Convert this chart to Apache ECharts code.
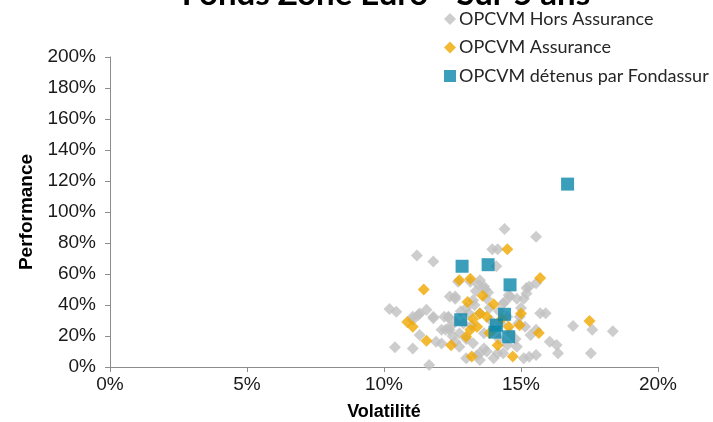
<!DOCTYPE html>
<html><head><meta charset="utf-8">
<script src="https://cdn.jsdelivr.net/npm/echarts@6/dist/echarts.min.js"></script>
<style>html,body{margin:0;padding:0;background:#fff}#c{width:713px;height:422px}</style>
</head><body><div id="c"></div>
<script>
const titleText = 'Fonds Zone Euro - Sur 5 ans';
const xAxisName = 'Volatilité';
const yAxisName = 'Performance';
const seriesNames = ['OPCVM Hors Assurance', 'OPCVM Assurance', 'OPCVM détenus par Fondassur'];
const xTickValues = [0, 5, 10, 15, 20];
const yTickValues = [0, 20, 40, 60, 80, 100, 120, 140, 160, 180, 200];

// [volatilité %, performance %]
const horsAssurance = [
  [14.4,89],[15.55,84],[13.95,76],[14.15,76],[11.2,72],[11.8,68],[14.1,65],
  [13.5,56],[12.7,55],[13.15,55],[13.45,53],[13.65,52],[13.7,50],[13.35,49],[13.8,48],
  [15.2,51],[15.3,52],[15.55,54],[15.2,47.5],[15.1,44],[14.6,45.5],[14.55,46.5],[14.4,42],[14.35,41],
  [12.6,44],[12.4,45.5],[12.6,45.5],[13.25,43],[13.75,44],[14.85,44],
  [10.2,37.5],[10.45,35.7],[11.3,34.5],[11.25,33.5],[11.55,37],[11.8,32.5],[11.8,31.5],
  [11.05,32.5],[11.05,30.3],[12.35,32.5],[12.35,32],[12.2,32.5],
  [13.5,34.6],[13.1,34.6],[13.85,38],[14.5,32.5],[14.95,32.5],[15.7,34.6],[15.9,34.6],
  [12.9,28],[12.75,21.7],[13.65,21.7],[14.0,24],[14.25,28],[15.15,26],[15.35,20.6],[15.55,24],
  [12.1,24],[12.4,24],[12.4,26],[12.25,24],
  [16.9,26.4],[17.6,24],[18.35,23],
  [11.3,20.6],[10.4,12.7],[11.05,12],[11.65,1.3],
  [11.9,16.3],[12.1,15.2],[12.6,16.3],[12.75,13],
  [13.25,15.3],[13.65,12],[14.5,14.2],[14.85,13],
  [15.1,5.6],[15.3,6.6],[14.0,5.6],[14.15,8.8],[13.0,5.6],[13.4,7.7],[13.5,4.5],[13.5,8.8],[13.75,10],[14.35,8.8],
  [16.3,14.2],[16.35,8.8],[16.05,16.3],[17.55,8.8],[15.55,7.7],
  [13.0,38],[13.3,40],[12.8,36],[14.2,36],[13.9,30],[13.2,27],[12.6,29],[14.6,22],[14.8,18],
  [13.0,18],[14.2,18],[12.5,20],[15.0,38],[14.9,28]
];
const assurance = [
  [14.5,76],[15.7,57.5],[11.45,50],[12.75,56],[13.15,57],[13.6,46],[13.05,42],[14.0,40.5],
  [15.0,34.5],[13.5,34.5],[13.25,31],[13.75,32.5],[14.3,31],[10.85,29],[11.05,26],[14.95,27],
  [14.55,26],[13.15,24],[13.0,19.5],[15.65,22],[11.55,17],[12.45,14],[14.15,14],[13.2,6.7],
  [14.7,6.7],[17.5,29.7],[13.4,26],[13.85,22]
];
const fondassur = [
  [16.7,118],[12.85,65],[13.8,66],[14.6,53],[12.8,30.5],[14.4,34],[14.1,27],[14.05,22.5],[14.55,19.5]
];

const axisGray = '#8c8c8c';
const chart = echarts.init(document.getElementById('c'), null, {renderer: 'canvas'});
chart.setOption({
  backgroundColor: '#ffffff',
  animation: false,
  title: {
    text: titleText,
    left: 381, textAlign: 'center',
    top: -27,
    textStyle: {fontFamily: 'Lato', fontWeight: 'bold', fontSize: 33, color: '#000'}
  },
  legend: {
    orient: 'vertical',
    left: 444, top: 10, padding: 0,
    itemGap: 10.5, itemWidth: 12, itemHeight: 12,
    data: seriesNames,
    textStyle: {fontFamily: 'Lato', fontSize: 18, color: '#262626', padding: [0,0,0,-2]}
  },
  grid: {left: 110, right: 55, top: 57, bottom: 55, containLabel: false, outerBoundsMode: 'none'},
  xAxis: {
    type: 'value', min: 0, max: 20, interval: 5,
    name: xAxisName, nameLocation: 'middle', nameGap: 36,
    nameTextStyle: {fontFamily: 'Liberation Sans', fontWeight: 'bold', fontSize: 18, color: '#000'},
    axisLine: {show: true, onZero: false, lineStyle: {color: axisGray, width: 1}},
    axisTick: {show: true, inside: false, length: 5, lineStyle: {color: axisGray}},
    axisLabel: {margin: 8, fontFamily: 'Liberation Sans', fontSize: 19, color: '#1a1a1a',
      formatter: v => xTickValues.includes(v) ? v + '%' : ''},
    splitLine: {show: false}
  },
  yAxis: {
    type: 'value', min: 0, max: 200, interval: 20,
    name: yAxisName, nameLocation: 'middle', nameGap: 72, nameRotate: 90,
    nameTextStyle: {fontFamily: 'Liberation Sans', fontWeight: 'bold', fontSize: 19, color: '#000'},
    axisLine: {show: true, lineStyle: {color: axisGray, width: 1}},
    axisTick: {show: true, inside: false, length: 5, lineStyle: {color: axisGray}},
    axisLabel: {margin: 14, fontFamily: 'Liberation Sans', fontSize: 19, color: '#1a1a1a',
      formatter: v => yTickValues.includes(v) ? v + '%' : ''},
    splitLine: {show: false}
  },
  series: [
    {name: seriesNames[0], type: 'scatter', symbol: 'diamond', symbolSize: 12,
     itemStyle: {color: '#c0c0c0'}, data: horsAssurance, z: 2},
    {name: seriesNames[1], type: 'scatter', symbol: 'diamond', symbolSize: 12,
     itemStyle: {color: '#f0a800'}, data: assurance, z: 3},
    {name: seriesNames[2], type: 'scatter', symbol: 'rect', symbolSize: 13,
     itemStyle: {color: '#0a86aa'}, data: fondassur, z: 4}
  ]
});
</script></body></html>
